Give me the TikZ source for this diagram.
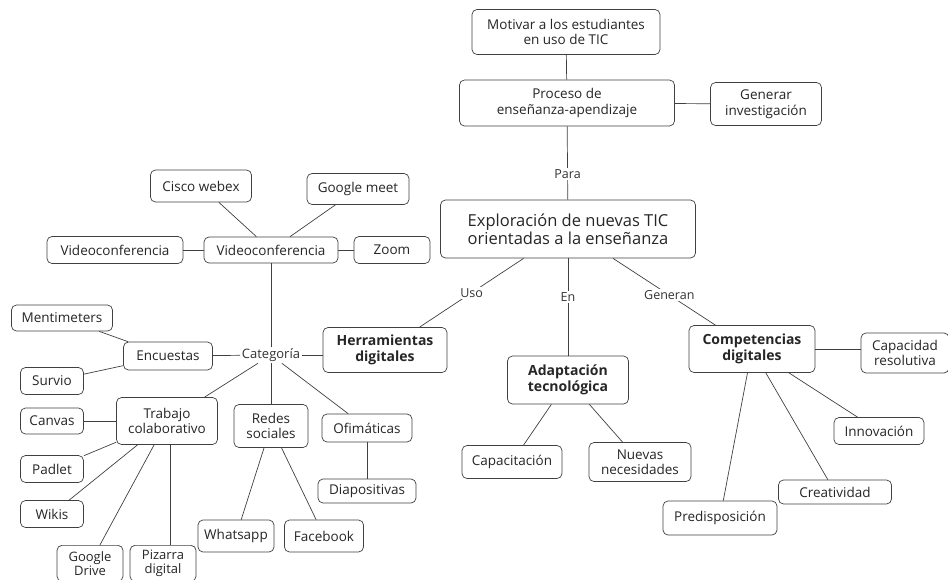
\documentclass[tikz,border=0pt]{standalone}
\usepackage{fontspec}
\setmainfont{Open Sans}
\usetikzlibrary{positioning,calc}

\begin{document}
\begin{tikzpicture}[
  x=1pt, y=-1pt,
  font=\fontsize{13.5}{15.5}\selectfont,
  conbox/.style={draw=black!75, text=black!85, line width=0.7pt, rounded corners=5pt, align=center, inner sep=2pt, fill=white},
  keybox/.style={conbox, font=\fontsize{14}{16}\selectfont\bfseries},
  sz/.style 2 args={minimum width=#1pt, minimum height=#2pt},
  linklbl/.style={fill=white, text=black!80, inner sep=1.5pt, font=\fontsize{12.5}{14}\selectfont},
  con/.style={draw=black!75, line width=0.7pt}
]
\useasboundingbox (0,0) rectangle (948,579);

% rama superior
\node[conbox, sz={188}{45}] (mot) at (566,32) {Motivar a los estudiantes\\en uso de TIC};
\node[conbox, sz={215}{46}] (proc) at (567,103) {Proceso de\\enseñanza-apendizaje};
\node[conbox, sz={111}{43}] (gen) at (766,104) {Generar\\investigación};
\node[conbox, sz={255}{58}, font=\fontsize{16.5}{18}\selectfont] (expl) at (568,229) {Exploración de nuevas TIC\\orientadas a la enseñanza};

\node[keybox, sz={124}{45}] (herr) at (385,350) {Herramientas\\digitales};
\node[keybox, sz={121}{48}] (adap) at (568,380) {Adaptación\\tecnológica};
\node[keybox, sz={126}{47}] (comp) at (752,349) {Competencias\\digitales};

% competencias
\node[conbox, sz={88}{40}] (capr) at (905,353) {Capacidad\\resolutiva};
\node[conbox, sz={90}{27}] (inno) at (879,431) {Innovación};
\node[conbox, sz={113}{24}] (crea) at (835,492) {Creatividad};
\node[conbox, sz={114}{34}] (pred) at (720,518) {Predisposición};

% adaptacion
\node[conbox, sz={100}{33}] (capa) at (512,462) {Capacitación};
\node[conbox, sz={102}{39}] (nuev) at (640,462) {Nuevas\\necesidades};

% herramientas
\node[linklbl, font=\fontsize{13}{15}\selectfont] (cat) at (271,355) {Categoría};
\node[conbox, sz={134}{26}] (vid) at (271,250) {Videoconferencia};
\node[conbox, sz={101}{32}] (cis) at (201,186) {Cisco webex};
\node[conbox, sz={102}{31}] (gme) at (358,189) {Google meet};
\node[conbox, sz={136}{27}] (vidl) at (115,250) {Videoconferencia};
\node[conbox, sz={76}{27}] (zoo) at (392,250) {Zoom};

\node[conbox, sz={101}{26}] (men) at (62,318) {Mentimeters};
\node[conbox, sz={89}{28}] (enc) at (168,356) {Encuestas};
\node[conbox, sz={63}{27}] (sur) at (52,381) {Survio};

\node[conbox, sz={101}{47}] (trab) at (167,421) {Trabajo\\colaborativo};
\node[conbox, sz={63}{26}] (can) at (52,421) {Canvas};
\node[conbox, sz={63}{27}] (pad) at (52,469) {Padlet};
\node[conbox, sz={63}{27}] (wik) at (52,514) {Wikis};
\node[conbox, sz={66}{36}, anchor=north, font=\fontsize{13}{14}\selectfont] (gdr) at (90,545) {Google\\Drive};
\node[conbox, sz={66}{36}, anchor=north, font=\fontsize{13}{14}\selectfont] (piz) at (163,545) {Pizarra\\digital};

\node[conbox, sz={74}{43}] (red) at (271,426) {Redes\\sociales};
\node[conbox, sz={76}{32}] (wha) at (236,536) {Whatsapp};
\node[conbox, sz={79}{32}] (fac) at (324,536) {Facebook};

\node[conbox, sz={90}{28}] (ofi) at (367,428) {Ofimáticas};
\node[conbox, sz={98}{24}] (dia) at (367,491) {Diapositivas};

% conectores
\draw[con] (mot) -- (proc);
\draw[con] (proc) -- (gen);
\draw[con] (proc) -- node[linklbl, pos=0.65] {Para} (expl);
\draw[con] (expl) -- node[linklbl] {Uso} (herr);
\draw[con] (expl) -- node[linklbl, pos=0.4] {En} (adap);
\draw[con] (expl) -- node[linklbl, pos=0.55] {Generan} (comp);

\draw[con] (comp.east) -- (comp.east -| capr.west);
\draw[con] (comp) -- (inno);
\draw[con] (comp) -- (crea);
\draw[con] (comp) -- (pred);
\draw[con] (adap) -- (capa);
\draw[con] (adap) -- (nuev);

\draw[con] (cat) -- (herr.west |- cat);
\draw[con] (cat) -- (vid);
\draw[con] (cat) -- (red);
\draw[con] (cat) -- (enc);
\draw[con] (cat) -- (trab);
\draw[con] (cat) -- (ofi);

\draw[con] (vid) -- (cis);
\draw[con] (vid) -- (gme);
\draw[con] (vid) -- (vidl);
\draw[con] (vid) -- (zoo);

\draw[con] (enc) -- (men);
\draw[con] (enc) -- (sur);

\draw[con] (trab) -- (can);
\draw[con] (trab) -- (pad);
\draw[con] (trab) -- (wik);
\draw[con] (trab) -- (gdr);
\draw[con] ([xshift=7pt]piz.north) -- ([xshift=7pt]piz.north |- trab.south);

\draw[con] (red) -- (wha);
\draw[con] (red) -- (fac);
\draw[con] (ofi) -- (dia);
\end{tikzpicture}
\end{document}
